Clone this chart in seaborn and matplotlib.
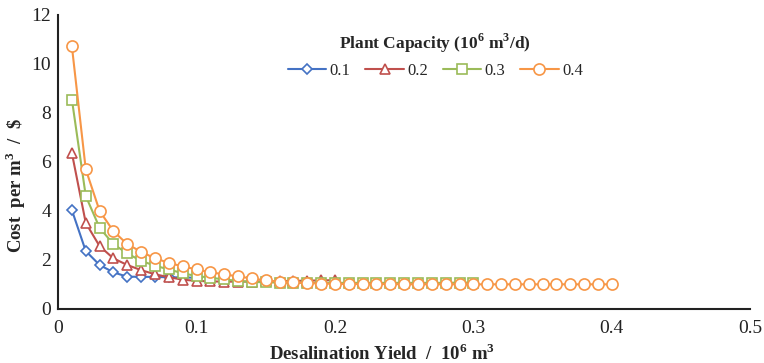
import numpy as np
import pandas as pd
import matplotlib
matplotlib.use("Agg")
import matplotlib.pyplot as plt
import seaborn as sns

# desalination yield (10^6 m3) and cost per m3 ($) for each plant capacity
yield_01 = [0.01, 0.02, 0.03, 0.04, 0.05, 0.06, 0.07, 0.08, 0.09, 0.10]
cost_01 = [4.02, 2.35, 1.78, 1.48, 1.30, 1.30, 1.29, 1.28, 1.27, 1.26]

yield_02 = [0.01, 0.02, 0.03, 0.04, 0.05, 0.06, 0.07, 0.08, 0.09, 0.10,
            0.11, 0.12, 0.13, 0.14, 0.15, 0.16, 0.17, 0.18, 0.19, 0.20]
cost_02 = [6.35, 3.50, 2.55, 2.05, 1.78, 1.57, 1.40, 1.28, 1.18, 1.13,
           1.11, 1.10, 1.10, 1.10, 1.11, 1.12, 1.13, 1.14, 1.15, 1.16]

yield_03 = [0.01, 0.02, 0.03, 0.04, 0.05, 0.06, 0.07, 0.08, 0.09, 0.10,
            0.11, 0.12, 0.13, 0.14, 0.15, 0.16, 0.17, 0.18, 0.19, 0.20,
            0.21, 0.22, 0.23, 0.24, 0.25, 0.26, 0.27, 0.28, 0.29, 0.30]
cost_03 = [8.54, 4.60, 3.30, 2.63, 2.25, 1.95, 1.75, 1.60, 1.44, 1.33,
           1.26, 1.19, 1.13, 1.09, 1.07, 1.06, 1.05, 1.05, 1.05, 1.05,
           1.05, 1.05, 1.05, 1.05, 1.05, 1.05, 1.05, 1.05, 1.06, 1.06]

yield_04 = [0.01, 0.02, 0.03, 0.04, 0.05, 0.06, 0.07, 0.08, 0.09, 0.10,
            0.11, 0.12, 0.13, 0.14, 0.15, 0.16, 0.17, 0.18, 0.19, 0.20,
            0.21, 0.22, 0.23, 0.24, 0.25, 0.26, 0.27, 0.28, 0.29, 0.30,
            0.31, 0.32, 0.33, 0.34, 0.35, 0.36, 0.37, 0.38, 0.39, 0.40]
cost_04 = [10.71, 5.69, 3.99, 3.16, 2.63, 2.32, 2.05, 1.87, 1.72, 1.60,
           1.48, 1.40, 1.31, 1.23, 1.15, 1.10, 1.07, 1.04, 1.02, 1.01,
           1.00, 1.00, 1.00, 1.00, 0.99, 0.99, 0.99, 0.99, 0.99, 0.99,
           0.99, 0.99, 0.99, 0.99, 0.99, 0.99, 0.99, 0.99, 0.99, 0.99]

labels = ["0.1", "0.2", "0.3", "0.4"]
colors = ["#4472C4", "#C0504D", "#9BBB59", "#F79646"]
markers = ["D", "^", "s", "o"]
msizes = [5.5, 7, 7.5, 8]

sns.set_style("white")
plt.rcParams["font.family"] = ["Liberation Serif", "DejaVu Serif"]
plt.rcParams["mathtext.fontset"] = "custom"
plt.rcParams["mathtext.rm"] = "Liberation Serif"
plt.rcParams["mathtext.bf"] = "Liberation Serif:bold"

fig = plt.figure(figsize=(7.64, 3.63), dpi=100)
ax = fig.add_axes([0.076, 0.150, 0.906, 0.809])

series = [(yield_01, cost_01), (yield_02, cost_02), (yield_03, cost_03), (yield_04, cost_04)]
for (xs, ys), lab, c, m, ms in zip(series, labels, colors, markers, msizes):
    df = pd.DataFrame({"yield": xs, "cost": ys})
    sns.lineplot(data=df, x="yield", y="cost", ax=ax, color=c, marker=m,
                 markersize=ms, markerfacecolor="white", markeredgecolor=c,
                 markeredgewidth=1.2, linewidth=1.5, label=lab)

ax.set_xlim(0, 0.5)
ax.set_ylim(0, 12)
ax.set_xticks([0, 0.1, 0.2, 0.3, 0.4, 0.5])
ax.set_xticklabels(["0", "0.1", "0.2", "0.3", "0.4", "0.5"])
ax.set_yticks([0, 2, 4, 6, 8, 10, 12])
ax.tick_params(axis="both", direction="in", length=5, width=1.3,
               labelsize=14, colors="#222222")
ax.tick_params(axis="y", pad=5)
ax.tick_params(axis="x", pad=8)
for s in ["top", "right"]:
    ax.spines[s].set_visible(False)
for s in ["left", "bottom"]:
    ax.spines[s].set_linewidth(1.5)
    ax.spines[s].set_color("#222222")

ax.set_xlabel("Desalination Yield  /  10$^{\\mathbf{6}}$ m$^{\\mathbf{3}}$",
              fontsize=13.5, fontweight="bold", va="center")
ax.set_ylabel("Cost  per m$^{\\mathbf{3}}$  /  \\$", fontsize=13.5,
              fontweight="bold", va="center")
ax.xaxis.set_label_coords(0.468, -0.152)
ax.yaxis.set_label_coords(-0.062, 0.42)

leg = ax.legend(title="Plant Capacity (10$^{\\mathbf{6}}$ m$^{\\mathbf{3}}$/d)",
                ncol=4, frameon=False, loc="upper center",
                bbox_to_anchor=(0.545, 0.995), fontsize=12, handlelength=2.3,
                columnspacing=0.9, handletextpad=0.2)
leg.get_title().set_fontweight("bold")
leg.get_title().set_fontsize(12.5)

fig.savefig("out.png", dpi=100)
